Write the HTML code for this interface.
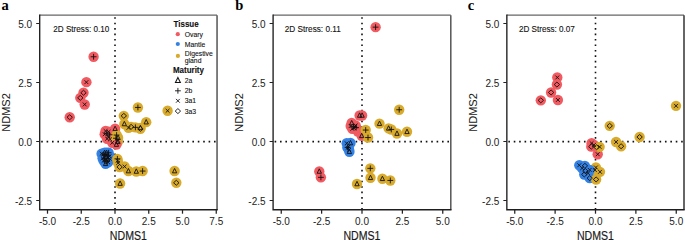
<!DOCTYPE html>
<html><head><meta charset="utf-8"><style>
html,body{margin:0;padding:0;background:#fff;}
body{width:685px;height:240px;overflow:hidden;}
svg{display:block;font-family:'Liberation Sans', sans-serif;}
</style></head><body>
<svg width="685" height="240" viewBox="0 0 685 240">
<rect width="685" height="240" fill="#fff"/>
<text x="1.5" y="9.6" font-family="Liberation Serif" font-weight="bold" font-size="14.5">a</text>
<line x1="115.00" y1="17.2" x2="115.00" y2="209.7" stroke="#111" stroke-width="1.6" stroke-dasharray="1.6 3.85"/>
<line x1="41.2" y1="141.6" x2="217.05" y2="141.6" stroke="#111" stroke-width="1.6" stroke-dasharray="1.6 3.8"/>
<path d="M39.70 15.20H217.05" stroke="#666" stroke-width="1.3"/>
<path d="M217.05 15.20V209.70" stroke="#555" stroke-width="1.5"/>
<path d="M39.70 14.60V209.70H217.75" fill="none" stroke="#1e1e1e" stroke-width="1.35"/>
<line x1="36.2" y1="23.50" x2="39.7" y2="23.50" stroke="#222" stroke-width="1"/>
<text x="32.2" y="27.60" text-anchor="end" font-size="10" fill="#222">5.0</text>
<line x1="36.2" y1="82.50" x2="39.7" y2="82.50" stroke="#222" stroke-width="1"/>
<text x="32.2" y="86.60" text-anchor="end" font-size="10" fill="#222">2.5</text>
<line x1="36.2" y1="141.50" x2="39.7" y2="141.50" stroke="#222" stroke-width="1"/>
<text x="32.2" y="145.60" text-anchor="end" font-size="10" fill="#222">0.0</text>
<line x1="36.2" y1="200.50" x2="39.7" y2="200.50" stroke="#222" stroke-width="1"/>
<text x="32.2" y="204.60" text-anchor="end" font-size="10" fill="#222">-2.5</text>
<line x1="47.50" y1="209.7" x2="47.50" y2="213.7" stroke="#222" stroke-width="1.25"/>
<text x="47.50" y="225.3" text-anchor="middle" font-size="10" fill="#222">-5.0</text>
<line x1="81.25" y1="209.7" x2="81.25" y2="213.7" stroke="#222" stroke-width="1.25"/>
<text x="81.25" y="225.3" text-anchor="middle" font-size="10" fill="#222">-2.5</text>
<line x1="115.00" y1="209.7" x2="115.00" y2="213.7" stroke="#222" stroke-width="1.25"/>
<text x="115.00" y="225.3" text-anchor="middle" font-size="10" fill="#222">0.0</text>
<line x1="148.75" y1="209.7" x2="148.75" y2="213.7" stroke="#222" stroke-width="1.25"/>
<text x="148.75" y="225.3" text-anchor="middle" font-size="10" fill="#222">2.5</text>
<line x1="182.50" y1="209.7" x2="182.50" y2="213.7" stroke="#222" stroke-width="1.25"/>
<text x="182.50" y="225.3" text-anchor="middle" font-size="10" fill="#222">5.0</text>
<line x1="216.25" y1="209.7" x2="216.25" y2="213.7" stroke="#222" stroke-width="1.25"/>
<text x="216.25" y="225.3" text-anchor="middle" font-size="10" fill="#222">7.5</text>
<text transform="translate(128.38 239.8) scale(1 1.17)" text-anchor="middle" font-size="10.6" fill="#1a1a1a" stroke="#1a1a1a" stroke-width="0.15">NDMS1</text>
<text transform="translate(9.90 112.45) rotate(-90)" text-anchor="middle" font-size="11" fill="#1a1a1a" stroke="#1a1a1a" stroke-width="0.05">NDMS2</text>
<text x="53.3" y="32.1" font-size="8.7" textLength="56" lengthAdjust="spacingAndGlyphs" fill="#111" stroke="#111" stroke-width="0.12">2D Stress: 0.10</text>
<g><circle cx="93.60" cy="56.75" r="5.2" fill="#F05A60"/><circle cx="86.40" cy="82.15" r="5.2" fill="#F05A60"/><circle cx="83.50" cy="92.75" r="5.2" fill="#F05A60"/><circle cx="80.30" cy="97.85" r="5.2" fill="#F05A60"/><circle cx="84.70" cy="104.45" r="5.2" fill="#F05A60"/><circle cx="69.70" cy="117.25" r="5.2" fill="#F05A60"/><circle cx="105.60" cy="131.05" r="5.2" fill="#F05A60"/><circle cx="104.70" cy="134.25" r="5.2" fill="#F05A60"/><circle cx="106.90" cy="133.25" r="5.2" fill="#F05A60"/><circle cx="108.10" cy="136.25" r="5.2" fill="#F05A60"/><circle cx="107.10" cy="138.75" r="5.2" fill="#F05A60"/><circle cx="109.60" cy="134.75" r="5.2" fill="#F05A60"/><circle cx="110.10" cy="139.25" r="5.2" fill="#F05A60"/><circle cx="115.10" cy="128.75" r="5.2" fill="#F05A60"/><circle cx="112.30" cy="142.75" r="5.2" fill="#F05A60"/><circle cx="108.60" cy="131.75" r="5.2" fill="#F05A60"/><circle cx="116.60" cy="135.05" r="5.2" fill="#D9AB2C"/><circle cx="118.10" cy="137.75" r="5.2" fill="#D9AB2C"/><circle cx="117.10" cy="140.75" r="5.2" fill="#D9AB2C"/><circle cx="115.90" cy="138.25" r="5.2" fill="#D9AB2C"/><circle cx="117.90" cy="141.75" r="5.2" fill="#D9AB2C"/><circle cx="116.40" cy="144.55" r="5.2" fill="#F05A60"/><circle cx="101.60" cy="153.75" r="5.2" fill="#3481E4"/><circle cx="104.60" cy="152.75" r="5.2" fill="#3481E4"/><circle cx="108.60" cy="152.75" r="5.2" fill="#3481E4"/><circle cx="109.60" cy="156.25" r="5.2" fill="#3481E4"/><circle cx="102.60" cy="158.25" r="5.2" fill="#3481E4"/><circle cx="105.60" cy="157.25" r="5.2" fill="#3481E4"/><circle cx="107.10" cy="161.25" r="5.2" fill="#3481E4"/><circle cx="105.60" cy="163.75" r="5.2" fill="#3481E4"/><circle cx="108.10" cy="162.25" r="5.2" fill="#3481E4"/><circle cx="104.10" cy="155.25" r="5.2" fill="#3481E4"/><circle cx="106.60" cy="154.75" r="5.2" fill="#3481E4"/><circle cx="103.60" cy="160.75" r="5.2" fill="#3481E4"/><circle cx="105.10" cy="156.75" r="5.2" fill="#3481E4"/><circle cx="107.60" cy="157.75" r="5.2" fill="#3481E4"/><circle cx="104.60" cy="158.75" r="5.2" fill="#3481E4"/><circle cx="106.60" cy="152.75" r="5.2" fill="#3481E4"/><circle cx="103.60" cy="154.25" r="5.2" fill="#3481E4"/><circle cx="108.10" cy="155.25" r="5.2" fill="#3481E4"/><circle cx="106.10" cy="159.75" r="5.2" fill="#3481E4"/><circle cx="105.60" cy="161.25" r="5.2" fill="#3481E4"/><circle cx="107.60" cy="159.25" r="5.2" fill="#3481E4"/><circle cx="109.70" cy="158.75" r="5.2" fill="#3481E4"/><circle cx="137.90" cy="107.45" r="5.2" fill="#D9AB2C"/><circle cx="167.60" cy="110.75" r="5.2" fill="#D9AB2C"/><circle cx="123.80" cy="115.85" r="5.2" fill="#D9AB2C"/><circle cx="146.20" cy="122.15" r="5.2" fill="#D9AB2C"/><circle cx="124.35" cy="123.95" r="5.2" fill="#D9AB2C"/><circle cx="128.50" cy="127.85" r="5.2" fill="#D9AB2C"/><circle cx="131.10" cy="126.85" r="5.2" fill="#D9AB2C"/><circle cx="135.40" cy="127.35" r="5.2" fill="#D9AB2C"/><circle cx="140.40" cy="128.85" r="5.2" fill="#D9AB2C"/><circle cx="140.40" cy="127.85" r="5.2" fill="#D9AB2C"/><circle cx="117.40" cy="158.85" r="5.2" fill="#D9AB2C"/><circle cx="117.70" cy="160.85" r="5.2" fill="#D9AB2C"/><circle cx="118.10" cy="163.05" r="5.2" fill="#D9AB2C"/><circle cx="119.60" cy="166.95" r="5.2" fill="#D9AB2C"/><circle cx="124.60" cy="166.55" r="5.2" fill="#D9AB2C"/><circle cx="128.40" cy="171.05" r="5.2" fill="#D9AB2C"/><circle cx="136.30" cy="171.45" r="5.2" fill="#D9AB2C"/><circle cx="142.60" cy="171.05" r="5.2" fill="#D9AB2C"/><circle cx="120.10" cy="183.55" r="5.2" fill="#D9AB2C"/><circle cx="174.60" cy="171.05" r="5.2" fill="#D9AB2C"/><circle cx="176.30" cy="182.75" r="5.2" fill="#D9AB2C"/></g>
<g fill="none" stroke="#111" stroke-width="0.9"><path d="M90.70 56.75H96.50M93.60 53.85V59.65"/><path d="M84.50 80.25L88.30 84.05M84.50 84.05L88.30 80.25"/><path d="M83.50 90.25L86.20 92.75L83.50 95.25L80.80 92.75Z"/><path d="M80.30 95.35L83.00 97.85L80.30 100.35L77.60 97.85Z"/><path d="M82.80 102.55L86.60 106.35M82.80 106.35L86.60 102.55"/><path d="M69.70 114.75L72.40 117.25L69.70 119.75L67.00 117.25Z"/><path d="M103.70 129.15L107.50 132.95M103.70 132.95L107.50 129.15"/><path d="M102.80 132.35L106.60 136.15M102.80 136.15L106.60 132.35"/><path d="M104.00 133.25H109.80M106.90 130.35V136.15"/><path d="M106.20 134.35L110.00 138.15M106.20 138.15L110.00 134.35"/><path d="M105.20 136.85L109.00 140.65M105.20 140.65L109.00 136.85"/><path d="M106.70 134.75H112.50M109.60 131.85V137.65"/><path d="M108.20 137.35L112.00 141.15M108.20 141.15L112.00 137.35"/><path d="M115.10 126.15L117.25 130.55L112.95 130.55Z"/><path d="M110.40 140.85L114.20 144.65M110.40 144.65L114.20 140.85"/><path d="M106.70 129.85L110.50 133.65M106.70 133.65L110.50 129.85"/><path d="M113.70 135.05H119.50M116.60 132.15V137.95"/><path d="M118.10 135.15L120.25 139.55L115.95 139.55Z"/><path d="M115.20 138.85L119.00 142.65M115.20 142.65L119.00 138.85"/><path d="M113.00 138.25H118.80M115.90 135.35V141.15"/><path d="M117.90 139.15L120.05 143.55L115.75 143.55Z"/><path d="M116.40 141.95L118.55 146.35L114.25 146.35Z"/><path d="M99.70 151.85L103.50 155.65M99.70 155.65L103.50 151.85"/><path d="M104.60 150.15L106.75 154.55L102.45 154.55Z"/><path d="M105.70 152.75H111.50M108.60 149.85V155.65"/><path d="M107.70 154.35L111.50 158.15M107.70 158.15L111.50 154.35"/><path d="M100.70 156.35L104.50 160.15M100.70 160.15L104.50 156.35"/><path d="M105.60 154.75L108.30 157.25L105.60 159.75L102.90 157.25Z"/><path d="M104.20 161.25H110.00M107.10 158.35V164.15"/><path d="M105.60 161.15L107.75 165.55L103.45 165.55Z"/><path d="M106.20 160.35L110.00 164.15M106.20 164.15L110.00 160.35"/><path d="M101.20 155.25H107.00M104.10 152.35V158.15"/><path d="M104.70 152.85L108.50 156.65M104.70 156.65L108.50 152.85"/><path d="M101.70 158.85L105.50 162.65M101.70 162.65L105.50 158.85"/><path d="M103.20 154.85L107.00 158.65M103.20 158.65L107.00 154.85"/><path d="M105.70 155.85L109.50 159.65M105.70 159.65L109.50 155.85"/><path d="M101.70 158.75H107.50M104.60 155.85V161.65"/><path d="M106.60 150.15L108.75 154.55L104.45 154.55Z"/><path d="M101.70 152.35L105.50 156.15M101.70 156.15L105.50 152.35"/><path d="M105.20 155.25H111.00M108.10 152.35V158.15"/><path d="M104.20 157.85L108.00 161.65M104.20 161.65L108.00 157.85"/><path d="M105.60 158.75L108.30 161.25L105.60 163.75L102.90 161.25Z"/><path d="M107.60 156.65L109.75 161.05L105.45 161.05Z"/><path d="M107.80 156.85L111.60 160.65M107.80 160.65L111.60 156.85"/><path d="M135.00 107.45H140.80M137.90 104.55V110.35"/><path d="M165.70 108.85L169.50 112.65M165.70 112.65L169.50 108.85"/><path d="M123.80 113.35L126.50 115.85L123.80 118.35L121.10 115.85Z"/><path d="M146.20 119.55L148.35 123.95L144.05 123.95Z"/><path d="M124.35 121.35L126.50 125.75L122.20 125.75Z"/><path d="M126.60 125.95L130.40 129.75M126.60 129.75L130.40 125.95"/><path d="M131.10 124.35L133.80 126.85L131.10 129.35L128.40 126.85Z"/><path d="M132.50 127.35H138.30M135.40 124.45V130.25"/><path d="M140.40 126.35L143.10 128.85L140.40 131.35L137.70 128.85Z"/><path d="M140.40 125.25L142.55 129.65L138.25 129.65Z"/><path d="M114.50 158.85H120.30M117.40 155.95V161.75"/><path d="M115.80 158.95L119.60 162.75M115.80 162.75L119.60 158.95"/><path d="M116.20 161.15L120.00 164.95M116.20 164.95L120.00 161.15"/><path d="M119.60 164.45L122.30 166.95L119.60 169.45L116.90 166.95Z"/><path d="M122.70 164.65L126.50 168.45M122.70 168.45L126.50 164.65"/><path d="M128.40 168.45L130.55 172.85L126.25 172.85Z"/><path d="M136.30 168.85L138.45 173.25L134.15 173.25Z"/><path d="M139.70 171.05H145.50M142.60 168.15V173.95"/><path d="M120.10 180.95L122.25 185.35L117.95 185.35Z"/><path d="M174.60 168.45L176.75 172.85L172.45 172.85Z"/><path d="M176.30 180.25L179.00 182.75L176.30 185.25L173.60 182.75Z"/></g>
<text transform="translate(173.5 26.5) scale(1 1.05)" font-size="8" font-weight="bold" fill="#111" stroke="#111" stroke-width="0.1">Tissue</text>
<circle cx="177.8" cy="34.2" r="2.1" fill="#F05A60"/>
<text x="184.8" y="36.90" font-size="6.8" fill="#111" stroke="#111" stroke-width="0.1">Ovary</text>
<circle cx="177.8" cy="44.0" r="2.1" fill="#3481E4"/>
<text x="184.8" y="46.70" font-size="6.8" fill="#111" stroke="#111" stroke-width="0.1">Mantle</text>
<circle cx="177.9" cy="55.9" r="2.1" fill="#D9AB2C"/>
<text x="184.8" y="55.7" font-size="6.8" fill="#111" stroke="#111" stroke-width="0.1">Digestive</text>
<text x="184.8" y="62.5" font-size="6.8" fill="#111" stroke="#111" stroke-width="0.1">gland</text>
<text transform="translate(172.9 72.7) scale(1 1.05)" font-size="8" font-weight="bold" fill="#111" stroke="#111" stroke-width="0.1">Maturity</text>
<g fill="none" stroke="#111" stroke-width="0.9"><g transform="translate(177.9 80.4) scale(1.15) translate(-177.9 -80.4)"><path d="M177.90 77.80L180.05 82.20L175.75 82.20Z"/></g><g transform="translate(177.9 90.8) scale(1.0) translate(-177.9 -90.8)"><path d="M175.00 90.80H180.80M177.90 87.90V93.70"/></g><g transform="translate(177.9 100.8) scale(1.0) translate(-177.9 -100.8)"><path d="M176.00 98.90L179.80 102.70M176.00 102.70L179.80 98.90"/></g><g transform="translate(177.9 111.1) scale(1.0) translate(-177.9 -111.1)"><path d="M177.90 108.60L180.60 111.10L177.90 113.60L175.20 111.10Z"/></g></g>
<text x="184.8" y="83.00" font-size="6.8" fill="#111" stroke="#111" stroke-width="0.1">2a</text>
<text x="184.8" y="93.40" font-size="6.8" fill="#111" stroke="#111" stroke-width="0.1">2b</text>
<text x="184.8" y="103.40" font-size="6.8" fill="#111" stroke="#111" stroke-width="0.1">3a1</text>
<text x="184.8" y="113.70" font-size="6.8" fill="#111" stroke="#111" stroke-width="0.1">3a3</text>
<text x="235.2" y="9.6" font-family="Liberation Serif" font-weight="bold" font-size="14.5">b</text>
<line x1="362.00" y1="17.2" x2="362.00" y2="209.7" stroke="#111" stroke-width="1.6" stroke-dasharray="1.6 3.85"/>
<line x1="274.6" y1="141.6" x2="450.8" y2="141.6" stroke="#111" stroke-width="1.6" stroke-dasharray="1.6 3.8"/>
<path d="M273.10 15.20H450.80" stroke="#666" stroke-width="1.3"/>
<path d="M450.80 15.20V209.70" stroke="#555" stroke-width="1.5"/>
<path d="M273.10 14.60V209.70H451.50" fill="none" stroke="#1e1e1e" stroke-width="1.35"/>
<line x1="269.6" y1="23.50" x2="273.1" y2="23.50" stroke="#222" stroke-width="1"/>
<text x="265.6" y="27.60" text-anchor="end" font-size="10" fill="#222">5.0</text>
<line x1="269.6" y1="82.50" x2="273.1" y2="82.50" stroke="#222" stroke-width="1"/>
<text x="265.6" y="86.60" text-anchor="end" font-size="10" fill="#222">2.5</text>
<line x1="269.6" y1="141.50" x2="273.1" y2="141.50" stroke="#222" stroke-width="1"/>
<text x="265.6" y="145.60" text-anchor="end" font-size="10" fill="#222">0.0</text>
<line x1="269.6" y1="200.50" x2="273.1" y2="200.50" stroke="#222" stroke-width="1"/>
<text x="265.6" y="204.60" text-anchor="end" font-size="10" fill="#222">-2.5</text>
<line x1="281.25" y1="209.7" x2="281.25" y2="213.7" stroke="#222" stroke-width="1.25"/>
<text x="281.25" y="225.3" text-anchor="middle" font-size="10" fill="#222">-5.0</text>
<line x1="321.62" y1="209.7" x2="321.62" y2="213.7" stroke="#222" stroke-width="1.25"/>
<text x="321.62" y="225.3" text-anchor="middle" font-size="10" fill="#222">-2.5</text>
<line x1="362.00" y1="209.7" x2="362.00" y2="213.7" stroke="#222" stroke-width="1.25"/>
<text x="362.00" y="225.3" text-anchor="middle" font-size="10" fill="#222">0.0</text>
<line x1="402.38" y1="209.7" x2="402.38" y2="213.7" stroke="#222" stroke-width="1.25"/>
<text x="402.38" y="225.3" text-anchor="middle" font-size="10" fill="#222">2.5</text>
<line x1="442.75" y1="209.7" x2="442.75" y2="213.7" stroke="#222" stroke-width="1.25"/>
<text x="442.75" y="225.3" text-anchor="middle" font-size="10" fill="#222">5.0</text>
<text transform="translate(361.95 239.8) scale(1 1.17)" text-anchor="middle" font-size="10.6" fill="#1a1a1a" stroke="#1a1a1a" stroke-width="0.15">NDMS1</text>
<text transform="translate(243.30 112.45) rotate(-90)" text-anchor="middle" font-size="11" fill="#1a1a1a" stroke="#1a1a1a" stroke-width="0.05">NDMS2</text>
<text x="284.8" y="32.1" font-size="8.7" textLength="56" lengthAdjust="spacingAndGlyphs" fill="#111" stroke="#111" stroke-width="0.12">2D Stress: 0.11</text>
<g><circle cx="375.60" cy="27.15" r="5.2" fill="#F05A60"/><circle cx="359.60" cy="115.45" r="5.2" fill="#F05A60"/><circle cx="362.10" cy="115.45" r="5.2" fill="#F05A60"/><circle cx="351.70" cy="123.05" r="5.2" fill="#F05A60"/><circle cx="353.60" cy="126.75" r="5.2" fill="#F05A60"/><circle cx="354.90" cy="126.55" r="5.2" fill="#F05A60"/><circle cx="355.60" cy="125.45" r="5.2" fill="#F05A60"/><circle cx="353.90" cy="128.05" r="5.2" fill="#F05A60"/><circle cx="356.10" cy="127.65" r="5.2" fill="#F05A60"/><circle cx="350.70" cy="126.05" r="5.2" fill="#F05A60"/><circle cx="352.30" cy="128.85" r="5.2" fill="#F05A60"/><circle cx="357.90" cy="131.45" r="5.2" fill="#F05A60"/><circle cx="361.70" cy="135.85" r="5.2" fill="#F05A60"/><circle cx="319.30" cy="171.45" r="5.2" fill="#F05A60"/><circle cx="320.90" cy="177.35" r="5.2" fill="#F05A60"/><circle cx="365.70" cy="130.05" r="5.2" fill="#D9AB2C"/><circle cx="368.00" cy="137.55" r="5.2" fill="#D9AB2C"/><circle cx="399.20" cy="109.75" r="5.2" fill="#D9AB2C"/><circle cx="379.50" cy="123.65" r="5.2" fill="#D9AB2C"/><circle cx="388.60" cy="128.35" r="5.2" fill="#D9AB2C"/><circle cx="391.30" cy="129.45" r="5.2" fill="#D9AB2C"/><circle cx="397.00" cy="133.55" r="5.2" fill="#D9AB2C"/><circle cx="407.00" cy="131.75" r="5.2" fill="#D9AB2C"/><circle cx="370.30" cy="168.35" r="5.2" fill="#D9AB2C"/><circle cx="370.50" cy="177.75" r="5.2" fill="#D9AB2C"/><circle cx="382.40" cy="178.75" r="5.2" fill="#D9AB2C"/><circle cx="390.30" cy="180.45" r="5.2" fill="#D9AB2C"/><circle cx="357.00" cy="183.95" r="5.2" fill="#D9AB2C"/><circle cx="346.70" cy="143.25" r="5.2" fill="#3481E4"/><circle cx="350.50" cy="143.05" r="5.2" fill="#3481E4"/><circle cx="348.60" cy="146.55" r="5.2" fill="#3481E4"/><circle cx="347.60" cy="147.45" r="5.2" fill="#3481E4"/><circle cx="349.10" cy="149.75" r="5.2" fill="#3481E4"/><circle cx="349.40" cy="151.75" r="5.2" fill="#3481E4"/><circle cx="347.60" cy="147.75" r="5.2" fill="#3481E4"/></g>
<g fill="none" stroke="#111" stroke-width="0.9"><path d="M372.70 27.15H378.50M375.60 24.25V30.05"/><path d="M359.60 112.85L361.75 117.25L357.45 117.25Z"/><path d="M362.10 112.85L364.25 117.25L359.95 117.25Z"/><path d="M351.70 120.45L353.85 124.85L349.55 124.85Z"/><path d="M350.70 126.75H356.50M353.60 123.85V129.65"/><path d="M353.00 124.65L356.80 128.45M353.00 128.45L356.80 124.65"/><path d="M353.70 123.55L357.50 127.35M353.70 127.35L357.50 123.55"/><path d="M352.00 126.15L355.80 129.95M352.00 129.95L355.80 126.15"/><path d="M353.20 127.65H359.00M356.10 124.75V130.55"/><path d="M348.80 124.15L352.60 127.95M348.80 127.95L352.60 124.15"/><path d="M350.40 126.95L354.20 130.75M350.40 130.75L354.20 126.95"/><path d="M361.70 133.25L363.85 137.65L359.55 137.65Z"/><path d="M319.30 168.85L321.45 173.25L317.15 173.25Z"/><path d="M318.00 177.35H323.80M320.90 174.45V180.25"/><path d="M362.80 130.05H368.60M365.70 127.15V132.95"/><path d="M365.10 137.55H370.90M368.00 134.65V140.45"/><path d="M396.30 109.75H402.10M399.20 106.85V112.65"/><path d="M379.50 121.05L381.65 125.45L377.35 125.45Z"/><path d="M388.60 125.75L390.75 130.15L386.45 130.15Z"/><path d="M388.40 129.45H394.20M391.30 126.55V132.35"/><path d="M397.00 130.95L399.15 135.35L394.85 135.35Z"/><path d="M407.00 129.15L409.15 133.55L404.85 133.55Z"/><path d="M367.40 168.35H373.20M370.30 165.45V171.25"/><path d="M370.50 175.15L372.65 179.55L368.35 179.55Z"/><path d="M382.40 176.15L384.55 180.55L380.25 180.55Z"/><path d="M387.40 180.45H393.20M390.30 177.55V183.35"/><path d="M357.00 181.35L359.15 185.75L354.85 185.75Z"/><path d="M344.80 141.35L348.60 145.15M344.80 145.15L348.60 141.35"/><path d="M350.50 140.45L352.65 144.85L348.35 144.85Z"/><path d="M346.70 144.65L350.50 148.45M346.70 148.45L350.50 144.65"/><path d="M344.70 147.45H350.50M347.60 144.55V150.35"/><path d="M347.20 147.85L351.00 151.65M347.20 151.65L351.00 147.85"/><path d="M349.40 149.15L351.55 153.55L347.25 153.55Z"/><path d="M345.70 145.85L349.50 149.65M345.70 149.65L349.50 145.85"/></g>
<text x="467.8" y="9.6" font-family="Liberation Serif" font-weight="bold" font-size="14.5">c</text>
<line x1="595.50" y1="17.2" x2="595.50" y2="209.7" stroke="#111" stroke-width="1.6" stroke-dasharray="1.6 3.85"/>
<line x1="508.35" y1="141.6" x2="684.0" y2="141.6" stroke="#111" stroke-width="1.6" stroke-dasharray="1.6 3.8"/>
<path d="M506.85 15.20H684.00" stroke="#666" stroke-width="1.3"/>
<path d="M684.00 15.20V209.70" stroke="#333" stroke-width="1.5"/>
<path d="M506.85 14.60V209.70H684.70" fill="none" stroke="#1e1e1e" stroke-width="1.35"/>
<line x1="503.35" y1="23.50" x2="506.85" y2="23.50" stroke="#222" stroke-width="1"/>
<text x="499.35" y="27.60" text-anchor="end" font-size="10" fill="#222">5.0</text>
<line x1="503.35" y1="82.50" x2="506.85" y2="82.50" stroke="#222" stroke-width="1"/>
<text x="499.35" y="86.60" text-anchor="end" font-size="10" fill="#222">2.5</text>
<line x1="503.35" y1="141.50" x2="506.85" y2="141.50" stroke="#222" stroke-width="1"/>
<text x="499.35" y="145.60" text-anchor="end" font-size="10" fill="#222">0.0</text>
<line x1="503.35" y1="200.50" x2="506.85" y2="200.50" stroke="#222" stroke-width="1"/>
<text x="499.35" y="204.60" text-anchor="end" font-size="10" fill="#222">-2.5</text>
<line x1="514.75" y1="209.7" x2="514.75" y2="213.7" stroke="#222" stroke-width="1.25"/>
<text x="514.75" y="225.3" text-anchor="middle" font-size="10" fill="#222">-5.0</text>
<line x1="555.12" y1="209.7" x2="555.12" y2="213.7" stroke="#222" stroke-width="1.25"/>
<text x="555.12" y="225.3" text-anchor="middle" font-size="10" fill="#222">-2.5</text>
<line x1="595.50" y1="209.7" x2="595.50" y2="213.7" stroke="#222" stroke-width="1.25"/>
<text x="595.50" y="225.3" text-anchor="middle" font-size="10" fill="#222">0.0</text>
<line x1="635.88" y1="209.7" x2="635.88" y2="213.7" stroke="#222" stroke-width="1.25"/>
<text x="635.88" y="225.3" text-anchor="middle" font-size="10" fill="#222">2.5</text>
<line x1="676.25" y1="209.7" x2="676.25" y2="213.7" stroke="#222" stroke-width="1.25"/>
<text x="676.25" y="225.3" text-anchor="middle" font-size="10" fill="#222">5.0</text>
<text transform="translate(595.42 239.8) scale(1 1.17)" text-anchor="middle" font-size="10.6" fill="#1a1a1a" stroke="#1a1a1a" stroke-width="0.15">NDMS1</text>
<text transform="translate(477.05 112.45) rotate(-90)" text-anchor="middle" font-size="11" fill="#1a1a1a" stroke="#1a1a1a" stroke-width="0.05">NDMS2</text>
<text x="518.9" y="32.1" font-size="8.7" textLength="56" lengthAdjust="spacingAndGlyphs" fill="#111" stroke="#111" stroke-width="0.12">2D Stress: 0.07</text>
<g><circle cx="557.30" cy="77.45" r="5.2" fill="#F05A60"/><circle cx="556.90" cy="84.55" r="5.2" fill="#F05A60"/><circle cx="551.10" cy="92.45" r="5.2" fill="#F05A60"/><circle cx="557.90" cy="99.95" r="5.2" fill="#F05A60"/><circle cx="540.80" cy="100.35" r="5.2" fill="#F05A60"/><circle cx="591.60" cy="143.15" r="5.2" fill="#F05A60"/><circle cx="591.30" cy="146.65" r="5.2" fill="#F05A60"/><circle cx="593.90" cy="145.05" r="5.2" fill="#F05A60"/><circle cx="597.70" cy="154.25" r="5.2" fill="#F05A60"/><circle cx="676.00" cy="105.85" r="5.2" fill="#D9AB2C"/><circle cx="609.70" cy="125.85" r="5.2" fill="#D9AB2C"/><circle cx="639.60" cy="137.00" r="5.2" fill="#D9AB2C"/><circle cx="616.10" cy="141.95" r="5.2" fill="#D9AB2C"/><circle cx="621.10" cy="146.25" r="5.2" fill="#D9AB2C"/><circle cx="596.60" cy="147.25" r="5.2" fill="#F05A60"/><circle cx="599.60" cy="146.85" r="5.2" fill="#D9AB2C"/><circle cx="595.90" cy="167.45" r="5.2" fill="#D9AB2C"/><circle cx="600.00" cy="171.85" r="5.2" fill="#D9AB2C"/><circle cx="595.10" cy="171.75" r="5.2" fill="#D9AB2C"/><circle cx="594.90" cy="170.05" r="5.2" fill="#D9AB2C"/><circle cx="579.30" cy="165.25" r="5.2" fill="#3481E4"/><circle cx="584.90" cy="165.85" r="5.2" fill="#3481E4"/><circle cx="585.40" cy="171.05" r="5.2" fill="#3481E4"/><circle cx="584.30" cy="174.45" r="5.2" fill="#3481E4"/><circle cx="589.70" cy="178.15" r="5.2" fill="#3481E4"/><circle cx="582.10" cy="168.25" r="5.2" fill="#3481E4"/><circle cx="588.10" cy="173.25" r="5.2" fill="#3481E4"/><circle cx="589.70" cy="169.85" r="5.2" fill="#3481E4"/><circle cx="596.10" cy="179.45" r="5.2" fill="#D9AB2C"/></g>
<g fill="none" stroke="#111" stroke-width="0.9"><path d="M555.40 75.55L559.20 79.35M555.40 79.35L559.20 75.55"/><path d="M556.90 82.05L559.60 84.55L556.90 87.05L554.20 84.55Z"/><path d="M551.10 89.95L553.80 92.45L551.10 94.95L548.40 92.45Z"/><path d="M556.00 98.05L559.80 101.85M556.00 101.85L559.80 98.05"/><path d="M540.80 97.85L543.50 100.35L540.80 102.85L538.10 100.35Z"/><path d="M589.70 141.25L593.50 145.05M589.70 145.05L593.50 141.25"/><path d="M591.30 144.15L594.00 146.65L591.30 149.15L588.60 146.65Z"/><path d="M592.00 143.15L595.80 146.95M592.00 146.95L595.80 143.15"/><path d="M595.80 152.35L599.60 156.15M595.80 156.15L599.60 152.35"/><path d="M674.10 103.95L677.90 107.75M674.10 107.75L677.90 103.95"/><path d="M609.70 123.35L612.40 125.85L609.70 128.35L607.00 125.85Z"/><path d="M639.60 134.50L642.30 137.00L639.60 139.50L636.90 137.00Z"/><path d="M614.20 140.05L618.00 143.85M614.20 143.85L618.00 140.05"/><path d="M621.10 143.75L623.80 146.25L621.10 148.75L618.40 146.25Z"/><path d="M596.60 144.75L599.30 147.25L596.60 149.75L593.90 147.25Z"/><path d="M597.70 144.95L601.50 148.75M597.70 148.75L601.50 144.95"/><path d="M594.00 165.55L597.80 169.35M594.00 169.35L597.80 165.55"/><path d="M598.10 169.95L601.90 173.75M598.10 173.75L601.90 169.95"/><path d="M593.00 168.15L596.80 171.95M593.00 171.95L596.80 168.15"/><path d="M577.40 163.35L581.20 167.15M577.40 167.15L581.20 163.35"/><path d="M584.90 163.35L587.60 165.85L584.90 168.35L582.20 165.85Z"/><path d="M585.40 168.55L588.10 171.05L585.40 173.55L582.70 171.05Z"/><path d="M584.30 171.95L587.00 174.45L584.30 176.95L581.60 174.45Z"/><path d="M589.70 175.65L592.40 178.15L589.70 180.65L587.00 178.15Z"/><path d="M580.20 166.35L584.00 170.15M580.20 170.15L584.00 166.35"/><path d="M586.20 171.35L590.00 175.15M586.20 175.15L590.00 171.35"/><path d="M587.80 167.95L591.60 171.75M587.80 171.75L591.60 167.95"/><path d="M596.10 176.95L598.80 179.45L596.10 181.95L593.40 179.45Z"/></g>
</svg>
</body></html>
